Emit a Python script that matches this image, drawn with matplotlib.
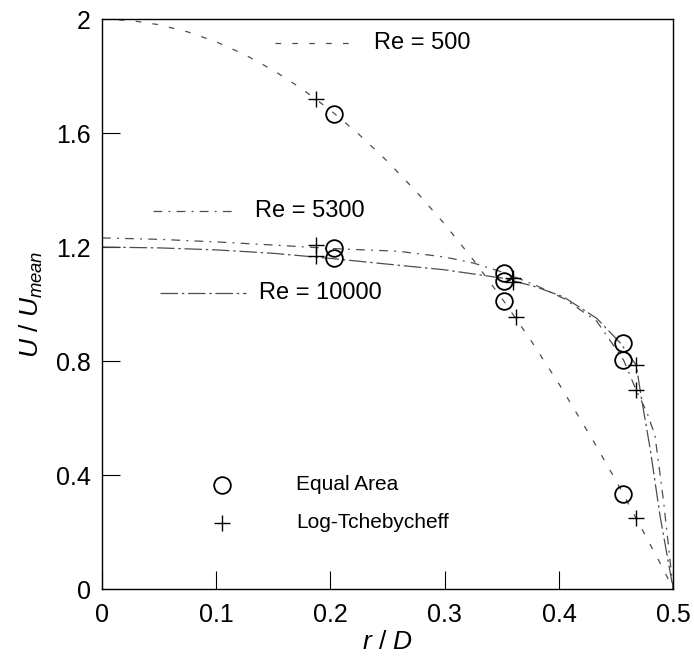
# Velocity profiles U/Umean vs r/D
from matplotlib import pyplot as plt
from matplotlib import font_manager
from matplotlib.lines import Line2D

# fonts
names = set(f.name for f in font_manager.fontManager.ttflist)
narrow = 'Liberation Sans Narrow' if 'Liberation Sans Narrow' in names else 'Liberation Sans'
plt.rcParams['font.family'] = ['Liberation Sans', 'DejaVu Sans']
plt.rcParams['mathtext.fontset'] = 'custom'
plt.rcParams['mathtext.it'] = 'Liberation Sans:italic'
plt.rcParams['mathtext.rm'] = 'Liberation Sans'

# Data
# Re = 500
r_500 = [0, 0.025, 0.05, 0.075, 0.1, 0.125, 0.15, 0.175, 0.2, 0.225, 0.25, 0.275, 0.3,
         0.325, 0.35, 0.375, 0.4, 0.415, 0.43, 0.45, 0.47, 0.49, 0.5]
u_500 = [2.0, 1.995, 1.98, 1.955, 1.92, 1.875, 1.82, 1.755, 1.68, 1.595, 1.50, 1.395, 1.28,
         1.155, 1.02, 0.875, 0.72, 0.62, 0.52, 0.38, 0.23, 0.08, 0.0]
# Re = 5300
r_5300 = [0, 0.05, 0.1, 0.15, 0.2, 0.26, 0.3, 0.325, 0.352, 0.38, 0.404, 0.433,
          0.4565, 0.4676, 0.477, 0.484, 0.4915, 0.5]
u_5300 = [1.232, 1.227, 1.218, 1.207, 1.195, 1.185, 1.165, 1.144, 1.11, 1.065, 1.02, 0.94,
          0.804, 0.698, 0.62, 0.54, 0.31, 0.0]
# Re = 10000
r_10000 = [0, 0.05, 0.1, 0.15, 0.2, 0.25, 0.3, 0.352, 0.38, 0.404, 0.433, 0.4536,
           0.4676, 0.4725, 0.48, 0.4886, 0.5]
u_10000 = [1.20, 1.197, 1.19, 1.178, 1.16, 1.14, 1.12, 1.09, 1.06, 1.025, 0.95, 0.864,
           0.786, 0.663, 0.488, 0.254, 0.0]

# measurement points
r_equal = [0.203, 0.203, 0.203, 0.352, 0.352, 0.352, 0.4565, 0.4565, 0.4565]
u_equal = [1.667, 1.195, 1.160, 1.110, 1.081, 1.012, 0.864, 0.804, 0.332]
r_tcheb = [0.187, 0.187, 0.187, 0.360, 0.360, 0.362, 0.4676, 0.4676, 0.4676]
u_tcheb = [1.72, 1.207, 1.168, 1.09, 1.078, 0.955, 0.786, 0.698, 0.249]

fig = plt.figure(figsize=(6.94, 6.57), dpi=100)
ax = fig.add_axes([0.147, 0.1035, 0.823, 0.8675])

ls_500 = (0, (4.5, 9))
ls_5300 = (0, (7, 5, 1.5, 5))
ls_10000 = (0, (14, 3, 2, 3))
lc = '0.3'

ax.plot(r_500, u_500, color=lc, lw=0.9, linestyle=ls_500)
ax.plot(r_5300, u_5300, color=lc, lw=0.9, linestyle=ls_5300)
ax.plot(r_10000, u_10000, color=lc, lw=0.9, linestyle=ls_10000)

ax.plot(r_equal, u_equal, 'o', ms=12, mfc='none', mec='k', mew=1.3)
ax.plot(r_tcheb, u_tcheb, '+', ms=12, mec='k', mew=1.0)

# curve labels
ax.add_line(Line2D([0.151, 0.224], [1.915, 1.915], color=lc, lw=0.9, linestyle=ls_500))
ax.text(0.238, 1.915, 'Re = 500', fontsize=17, va='center', ha='left')
ax.add_line(Line2D([0.045, 0.115], [1.326, 1.326], color=lc, lw=0.9, linestyle=ls_5300))
ax.text(0.134, 1.326, 'Re = 5300', fontsize=17, va='center', ha='left')
ax.add_line(Line2D([0.051, 0.126], [1.04, 1.04], color=lc, lw=0.9, linestyle=ls_10000))
ax.text(0.137, 1.04, 'Re = 10000', fontsize=17, va='center', ha='left')

# marker legend
ax.plot([0.1048], [0.365], 'o', ms=12, mfc='none', mec='k', mew=1.3)
ax.text(0.170, 0.365, 'Equal Area', fontsize=15, family=[narrow, 'DejaVu Sans'], va='center', ha='left')
ax.plot([0.1048], [0.232], '+', ms=12, mec='k', mew=1.0)
ax.text(0.170, 0.232, 'Log-Tchebycheff', fontsize=15, family=[narrow, 'DejaVu Sans'], va='center', ha='left')

ax.set_xlim(0, 0.5)
ax.set_ylim(0, 2)
ax.set_xticks([0, 0.1, 0.2, 0.3, 0.4, 0.5])
ax.set_xticklabels(['0', '0.1', '0.2', '0.3', '0.4', '0.5'])
ax.set_yticks([0, 0.4, 0.8, 1.2, 1.6, 2])
ax.set_yticklabels(['0', '0.4', '0.8', '1.2', '1.6', '2'])
ax.tick_params(direction='in', length=13, width=0.8, labelsize=18, pad=8)
ax.tick_params(axis='x', pad=10)
for s in ax.spines.values():
    s.set_linewidth(1.0)

ax.set_xlabel(r'$r\ /\ D$', fontsize=19, labelpad=2)
ax.set_ylabel(r'$U\ /\ U_{mean}$', fontsize=19, labelpad=8)

plt.savefig('out.png', dpi=100)
